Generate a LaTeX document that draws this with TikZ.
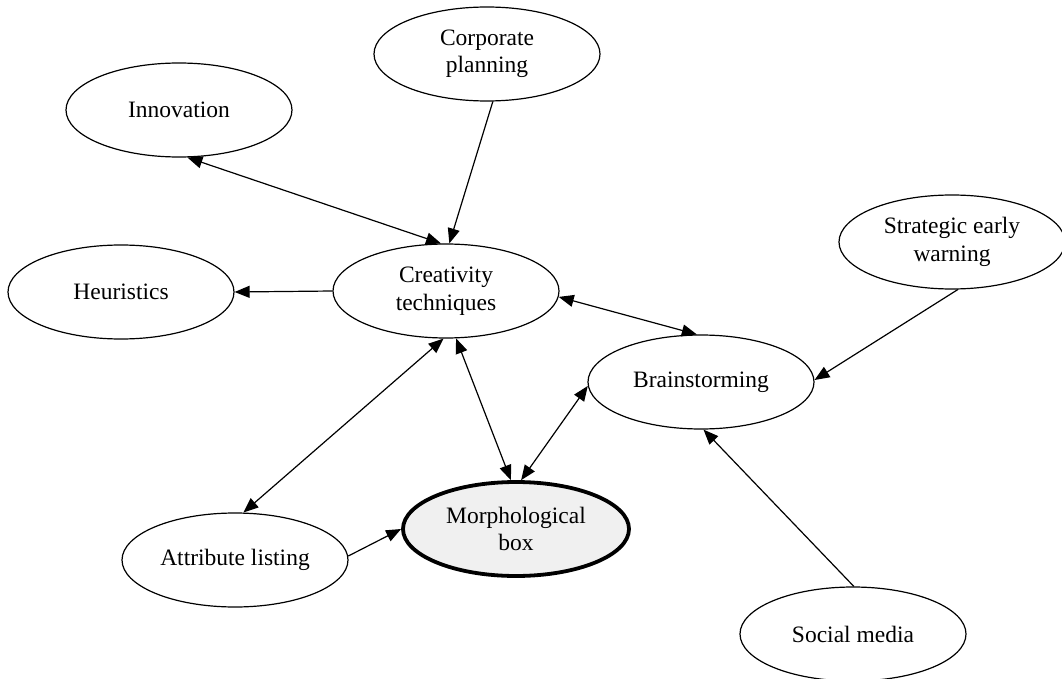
\documentclass[tikz,border=0pt]{standalone}
\usepackage{fontspec}
\setmainfont{Liberation Serif}
\usetikzlibrary{shapes.geometric,arrows.meta}
\tikzset{
  topic/.style={draw, ellipse, line width=1.2pt, minimum width=226pt, minimum height=94pt,
    inner sep=0pt, align=center, font=\fontsize{23.5}{27.5}\selectfont},
  core/.style={topic, line width=3.8pt, fill=black!6},
  link/.style={line width=1.2pt, -{Triangle[length=15pt,width=12pt]}},
  twolink/.style={line width=1.2pt, {Triangle[length=15pt,width=12pt]}-{Triangle[length=15pt,width=12pt]}}
}
\begin{document}
\begin{tikzpicture}[x=1pt,y=-1pt]
  \useasboundingbox (0,0) rectangle (1062,679);

  % concept nodes
  \node[topic] (corp)  at (487,54)  {Corporate\\planning};
  \node[topic] (inn)   at (179,110) {Innovation};
  \node[topic] (heu)   at (121,292) {Heuristics};
  \node[topic] (cre)   at (446,291) {Creativity\\techniques};
  \node[topic] (sew)   at (952,242) {Strategic early\\warning};
  \node[topic] (brain) at (701,382) {Brainstorming};
  \node[core]  (morph) at (516,529) {Morphological\\box};
  \node[topic] (attr)  at (235,560) {Attribute listing};
  \node[topic] (soc)   at (853,634) {Social media};

  % relations
  \draw[twolink] (inn.-80)  -- (cre.96);
  \draw[link]    (corp.-83) -- (cre.86);
  \draw[link]    (cre.180)  -- (heu.0);
  \draw[twolink] (cre.-3)   -- (brain.95);
  \draw[link]    (sew.-83)  -- (brain.1);
  \draw[link]    (soc.89)   -- (brain.-87);
  \draw[twolink] (cre.-78)  -- (morph.96);
  \draw[twolink] (brain.182) -- (morph.84);
  \draw[twolink] (attr.80)  -- (cre.-93);
  \draw[link]    (attr.2)   -- (morph.180);
\end{tikzpicture}
\end{document}
